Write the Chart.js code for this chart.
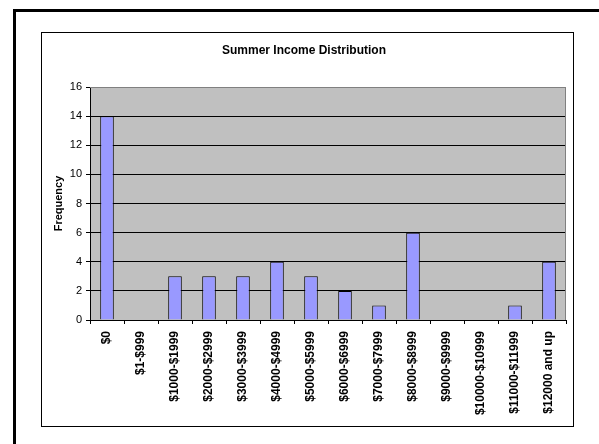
<!DOCTYPE html>
<html>
<head>
<meta charset="utf-8">
<script src="https://cdn.jsdelivr.net/npm/chart.js@4/dist/chart.umd.min.js"></script>
<style>
  html, body { margin: 0; padding: 0; background: #fff; overflow: hidden; }
  body { width: 599px; height: 444px; position: relative; }
  #outer { position: absolute; left: 13px; top: 9px; width: 700px; height: 600px; border: 3px solid #000; }
  #frame { position: absolute; left: 41px; top: 32px; width: 531px; height: 393px; border: 1px solid #000; background: #fff; }
  #frame canvas { position: absolute; left: 0; top: 0; }
</style>
</head>
<body>
<div id="outer"></div>
<div id="frame"><canvas id="incomeChart" width="531" height="393"></canvas></div>
<script>
const incomeRanges = ["$0", "$1-$999", "$1000-$1999", "$2000-$2999", "$3000-$3999", "$4000-$4999",
  "$5000-$5999", "$6000-$6999", "$7000-$7999", "$8000-$8999", "$9000-$9999",
  "$10000-$10999", "$11000-$11999", "$12000 and up"];
const frequency = [14, 0, 3, 3, 3, 4, 3, 2, 1, 6, 0, 0, 1, 4];
const yTicks = [0, 2, 4, 6, 8, 10, 12, 14, 16];

const fontFamily = "'Liberation Sans', Arial, sans-serif";

// grey plot background with a grey top/right edge
const plotBackground = {
  id: "plotBackground",
  beforeDraw(chart) {
    const { ctx, chartArea } = chart;
    ctx.save();
    ctx.fillStyle = "#c0c0c0";
    ctx.fillRect(chartArea.left, chartArea.top, chartArea.right - chartArea.left, chartArea.bottom - chartArea.top);
    ctx.restore();
  },
  afterDraw(chart) {
    const { ctx, chartArea } = chart;
    ctx.save();
    ctx.strokeStyle = "#808080";
    ctx.lineWidth = 1;
    ctx.beginPath();
    ctx.moveTo(chartArea.left, chartArea.top + 0.5);
    ctx.lineTo(chartArea.right - 0.5, chartArea.top + 0.5);
    ctx.lineTo(chartArea.right - 0.5, chartArea.bottom);
    ctx.stroke();
    ctx.restore();
  }
};

new Chart(document.getElementById("incomeChart"), {
  type: "bar",
  data: {
    labels: incomeRanges,
    datasets: [{
      data: frequency,
      backgroundColor: "#9999ff",
      borderColor: "#000",
      borderWidth: 1,
      barPercentage: 0.4,
      categoryPercentage: 1
    }]
  },
  options: {
    responsive: false,
    animation: false,
    layout: { padding: { left: 0, right: 7, top: 0, bottom: 0 } },
    plugins: {
      legend: { display: false },
      tooltip: { enabled: false },
      title: {
        display: true,
        text: "Summer Income Distribution",
        color: "#000",
        font: { family: fontFamily, size: 12, weight: "bold" },
        padding: { top: 10.5, bottom: 29.1 }
      }
    },
    scales: {
      x: {
        grid: { display: true, drawOnChartArea: false, offset: true, tickLength: 4, tickColor: "#000" },
        border: { display: true, color: "#000" },
        ticks: {
          color: "#000",
          font: { family: fontFamily, size: 12, weight: "bold" },
          maxRotation: 90, minRotation: 90,
          autoSkip: false,
          padding: 7
        },
        afterFit(scale) { scale.height = 106; }
      },
      y: {
        min: 0, max: 16,
        afterBuildTicks(scale) { scale.ticks = yTicks.map(v => ({ value: v })); },
        grid: {
          color: ctx => (ctx.tick && ctx.tick.value === 16 ? "#808080" : "#000"),
          tickColor: "#000",
          tickLength: 4
        },
        border: { display: true, color: "#000" },
        ticks: {
          color: "#000",
          font: { family: fontFamily, size: 11 },
          padding: 4
        },
        title: {
          display: true,
          text: "Frequency",
          color: "#000",
          font: { family: fontFamily, size: 11, weight: "bold" },
          padding: { top: 10, bottom: 0 }
        },
        afterFit(scale) { scale.width = 48; }
      }
    }
  },
  plugins: [plotBackground]
});
</script>
</body>
</html>
